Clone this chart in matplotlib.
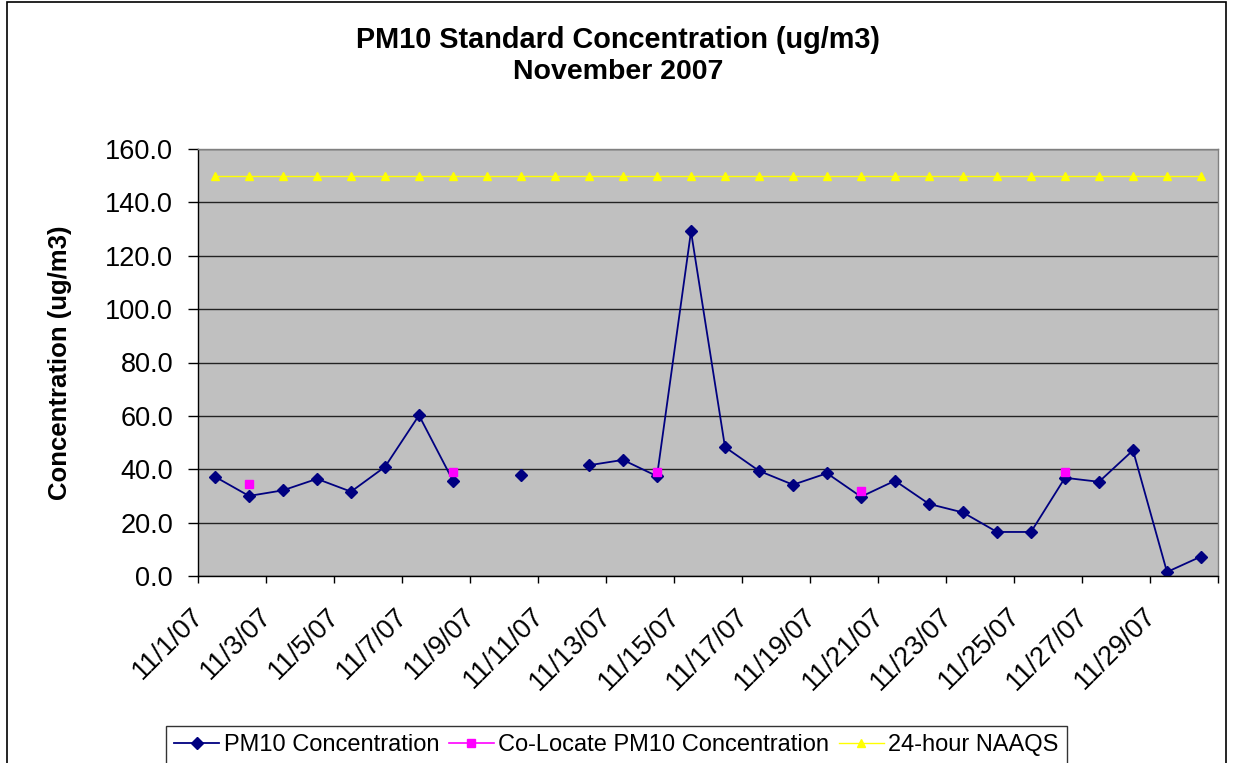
import numpy as np
import matplotlib
matplotlib.use("Agg")
import matplotlib.pyplot as plt
from matplotlib.transforms import ScaledTranslation
from matplotlib.patches import Rectangle

plt.rcParams['font.family'] = ['Liberation Sans', 'DejaVu Sans']

dates = [f"11/{d}/07" for d in range(1, 31)]
nan = np.nan
pm10 = [37.2, 30.0, 32.1, 36.4, 31.6, 40.9, 60.2, 35.7, nan, 37.9,
        nan, 41.5, 43.5, 37.4, 129.1, 48.3, 39.4, 34.2, 38.5, 29.7,
        35.7, 27.0, 23.8, 16.5, 16.5, 36.8, 35.3, 47.1, 1.5, 7.3]
colocate = [nan, 34.5, nan, nan, nan, nan, nan, 39.1, nan, nan,
            nan, nan, nan, 39.1, nan, nan, nan, nan, nan, 32.0,
            nan, nan, nan, nan, nan, 39.1, nan, nan, nan, nan]
naaqs = [150.0] * 30
yticks = [0, 20, 40, 60, 80, 100, 120, 140, 160]

W, H = 1236, 763
fig = plt.figure(figsize=(W / 100, H / 100), dpi=100)
ax = fig.add_axes([198 / W, 1 - 576 / H, 1020 / W, 427 / H])
ax.set_facecolor('#C0C0C0')

x = np.arange(len(dates))
l1, = ax.plot(x, pm10, color='#000080', lw=1.3, marker='D', markersize=6,
              label='PM10 Concentration')
l2, = ax.plot(x, colocate, color='#FF00FF', lw=1.2, marker='s', markersize=6.3,
              label='Co-Locate PM10 Concentration')
l3, = ax.plot(x, naaqs, color='#FFFF00', lw=1.0, marker='^', markersize=6,
              label='24-hour NAAQS')

ax.set_xlim(-0.5, len(dates) - 0.5)
ax.set_ylim(0, 160)
ax.set_yticks(yticks)
ax.set_yticklabels([f"{v:.1f}" for v in yticks], fontsize=19.5)
ax.yaxis.grid(True, color='#222222', lw=1.0)
ax.set_axisbelow(True)
ax.tick_params(axis='y', direction='out', length=7, width=1, color='black', pad=11)

# boundary ticks (marks) and labels at category centres
ax.set_xticks(np.arange(-0.5, len(dates), 2))
ax.set_xticklabels([])
ax.tick_params(axis='x', which='major', direction='out', length=5, width=1, color='black')
ax.set_xticks(x[::2], minor=True)
ax.set_xticklabels(dates[::2], minor=True, fontsize=19.5, rotation=45,
                   ha='right', va='center', rotation_mode='anchor')
ax.tick_params(axis='x', which='minor', length=0, pad=26)
off = ScaledTranslation(-15 / 100, 0, fig.dpi_scale_trans)
for lab in ax.get_xticklabels(minor=True):
    lab.set_transform(lab.get_transform() + off)

for s in ['left', 'bottom']:
    ax.spines[s].set_color('black')
    ax.spines[s].set_linewidth(1.0)
for s in ['top', 'right']:
    ax.spines[s].set_color('#808080')
    ax.spines[s].set_linewidth(1.0)

ax.set_ylabel('Concentration (ug/m3)', fontsize=18.5, fontweight='bold')
ax.yaxis.set_label_coords(-0.124, 0.5)

fig.text(0.5, 1 - 40 / H, 'PM10 Standard Concentration (ug/m3)', ha='center',
         va='center', fontsize=20.8, fontweight='bold')
fig.text(0.5, 1 - 72 / H, 'November 2007', ha='center', va='center',
         fontsize=20.5, fontweight='bold')

leg = fig.legend(handles=[l1, l2, l3], loc='upper left',
                 bbox_to_anchor=(166 / W, 1 - 726 / H), ncol=3, fontsize=17,
                 frameon=True, fancybox=False, borderpad=0.35,
                 handlelength=1.9, handletextpad=0.2, columnspacing=0.4,
                 borderaxespad=0)
leg.get_frame().set_edgecolor('black')
leg.get_frame().set_linewidth(1.0)

fig.patches.append(Rectangle((7 / W, -0.1), (1226 - 7) / W, 1.1 - 2 / H,
                             transform=fig.transFigure, fill=False,
                             edgecolor='black', lw=1.2))

fig.savefig('out.png', dpi=100)
